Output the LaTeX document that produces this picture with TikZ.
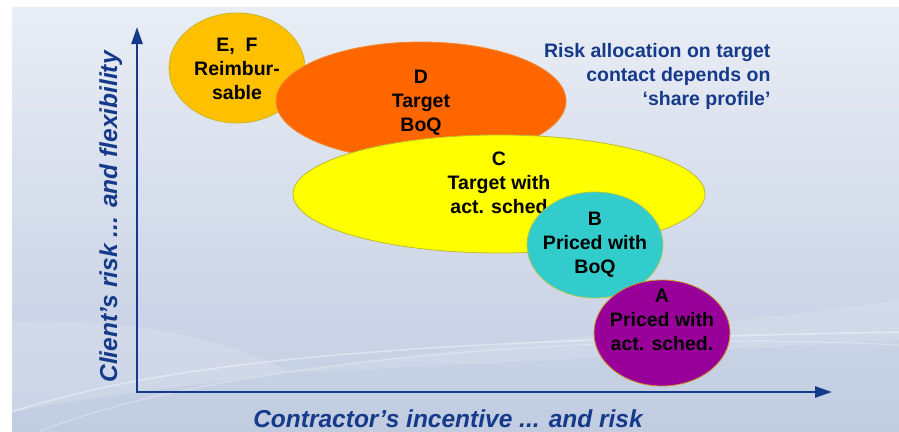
\documentclass[tikz,border=0pt]{standalone}
\usepackage{fontspec}
\setmainfont{Liberation Sans}
\usetikzlibrary{shapes.geometric,arrows.meta}

\definecolor{axisblue}{HTML}{163A8A}
\definecolor{bgtop}{HTML}{E9EDF5}
\definecolor{bgbottom}{HTML}{C1CCE1}
\definecolor{efcol}{HTML}{FFC000}
\definecolor{efline}{HTML}{C8B828}
\definecolor{dcol}{HTML}{FF6600}
\definecolor{dline}{HTML}{F08A30}
\definecolor{ccol}{HTML}{FFFF00}
\definecolor{cline}{HTML}{BDBD30}
\definecolor{bcol}{HTML}{33CCCC}
\definecolor{bline}{HTML}{A8C850}
\definecolor{acol}{HTML}{990099}
\definecolor{aline}{HTML}{C89020}

\begin{document}
\begin{tikzpicture}[x=1pt,y=-1pt,
  blob/.style={ellipse,draw,line width=0.8pt,inner sep=0pt},
  blobtext/.style={font=\bfseries\fontsize{19.5}{24}\selectfont,align=center,text=black},
  axislabel/.style={font=\bfseries\itshape\fontsize{24.5}{28}\selectfont,text=axisblue},
  note/.style={font=\bfseries\fontsize{19.5}{24}\selectfont,align=right,text=axisblue}]
\useasboundingbox (0,0) rectangle (899,431);
% background
\fill[top color=bgtop,bottom color=bgbottom] (12,7) rectangle (899,431);
\fill[white,opacity=.15] (12,322) .. controls (120,318) and (220,335) .. (290,372)
  .. controls (200,385) and (100,395) .. (12,412) -- cycle;
\fill[white,opacity=.12] (290,372) .. controls (500,340) and (700,330) .. (899,300)
  -- (899,340) .. controls (700,350) and (500,365) .. (290,372) -- cycle;
\draw[white,opacity=.4,line width=1.5pt] (12,412) .. controls (200,350) and (500,340) .. (899,332);
\draw[white,opacity=.3,line width=1.2pt] (40,431) .. controls (220,360) and (600,330) .. (899,345);
% axes
\coordinate (origin) at (137,392);
\coordinate (ytip) at (137,27);
\coordinate (xtip) at (832,392);
\draw[axisblue,line width=2.5pt,{Triangle[length=17pt,width=11pt]}-{Triangle[length=17pt,width=11pt]}]
  (ytip) -- (origin) -- (xtip);
\node[axislabel,rotate=90,anchor=base] (ylabel) at (117,217) {Client’s risk ... and flexibility};
\node[axislabel,anchor=base] (xlabel) at (448,427) {Contractor’s incentive ... and risk};
% contract types
\node[blob,fill=efcol,draw=efline,minimum width=136pt,minimum height=110pt] (ef) at (237,68) {};
\node[blobtext,yshift=-1pt] (ef-text) at (ef.center) {E,~~F\\Reimbur-\\sable};
\node[blob,fill=dcol,draw=dline,minimum width=290pt,minimum height=118pt] (d) at (421,101) {};
\node[blobtext,yshift=-2pt] (d-text) at (d.center) {D\\Target\\BoQ};
\node[blob,fill=ccol,draw=cline,minimum width=412pt,minimum height=118pt] (c) at (499,194) {};
\node[blobtext,yshift=11pt] (c-text) at (c.center) {C\\Target with\\act. sched};
\node[blob,fill=bcol,draw=bline,minimum width=136pt,minimum height=106pt] (b) at (595,245) {};
\node[blobtext] (b-text) at (b.center) {B\\Priced with\\BoQ};
\node[blob,fill=acol,draw=aline,minimum width=136pt,minimum height=106pt] (a) at (662,333) {};
\node[blobtext,yshift=13pt] (a-text) at (a.center) {A\\Priced with\\act. sched.};
\node[note,anchor=east] (share) at (774,76) {Risk allocation on target\\contact depends on\\‘share profile’};
\end{tikzpicture}
\end{document}
